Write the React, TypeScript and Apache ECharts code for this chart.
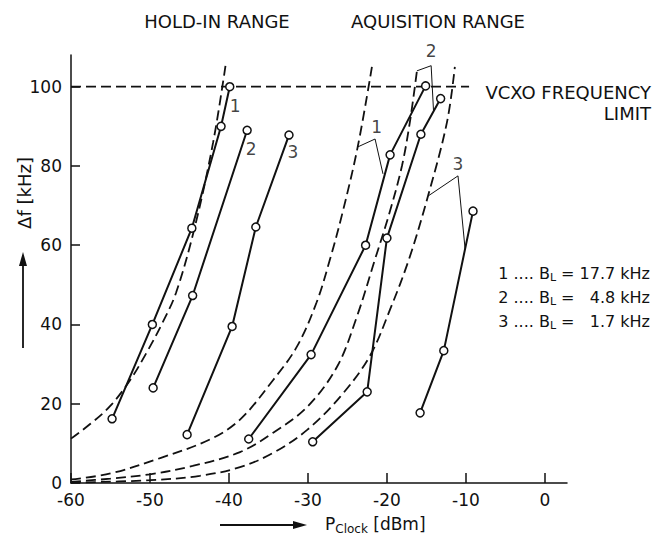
import React, { useEffect, useRef } from "react";
import * as echarts from "echarts";

// ---- tick values ----
const xTicks = [-60, -50, -40, -30, -20, -10, 0];
const yTicks = [0, 20, 40, 60, 80, 100];

// ---- measured curves (P_clock dBm, Δf kHz) ----
const holdIn1 = [[-54.8, 16.2], [-49.7, 40], [-44.7, 64.3], [-41, 90], [-39.9, 100]];
const holdIn2 = [[-49.6, 24], [-44.6, 47.3], [-37.7, 89]];
const holdIn3 = [[-45.3, 12.2], [-39.6, 39.5], [-36.6, 64.6], [-32.4, 87.8]];
const acq1 = [[-37.5, 11.1], [-29.6, 32.4], [-22.7, 60], [-19.6, 82.8], [-15.1, 100.2]];
const acq2 = [[-29.4, 10.4], [-22.5, 23], [-20, 61.8], [-15.7, 88], [-13.2, 97]];
const acq3 = [[-15.8, 17.7], [-12.8, 33.4], [-9.1, 68.6]];

// ---- theoretical (dashed) curves ----
const holdInTheory = [[-60, 11.2], [-57.5, 15], [-55, 19.5], [-52.5, 26], [-50.4, 33], [-48.4, 40.5], [-46.7, 48], [-44.3, 64.8], [-42, 86], [-40.4, 105.8]];
const acqTheory1 = [[-60, 0.9], [-55, 2.4], [-48.7, 6.3], [-42.4, 11], [-38.6, 16], [-34.4, 26], [-31.4, 34.4], [-28.9, 45.6], [-27.2, 56.5], [-25.6, 68.4], [-23.7, 84.8], [-21.9, 105]];
const acqTheory2 = [[-60, 0.3], [-55, 1.1], [-50, 2.2], [-44.6, 4.3], [-38.6, 7.8], [-34.4, 12.7], [-30.1, 19.2], [-26.3, 29.4], [-23.8, 42], [-21.5, 56.5], [-19.7, 68], [-18.1, 80], [-17.1, 91], [-16.2, 104]];
const acqTheory3 = [[-60, 0.1], [-50, 0.7], [-43.7, 1.8], [-38.6, 4], [-34.4, 7.6], [-30.1, 13.4], [-25.9, 21.8], [-22.2, 31.9], [-19.6, 43.8], [-17.2, 56.5], [-14.8, 72.4], [-12.4, 91], [-11.4, 105]];
const vcxoLimit = [[-60, 100], [-9.6, 100]];

// ---- callout leaders ----
const callout1 = [[-23.7, 84.8], [-21.5, 86.8], [-20.5, 78]];
const callout2 = [[-16.2, 104], [-14.4, 105.3], [-14.1, 93.9]];
const callout3 = [[-14.8, 72.4], [-11, 77.5], [-10.1, 59]];

// ---- curve number labels ----
const curveLabelNames = ["1", "2", "3", "1", "2", "3"];
const curveLabelPos = [[-39.2, 95.2], [-37.2, 84.3], [-31.9, 83.5], [-21.3, 89.9], [-14.4, 108.9], [-11, 80.5]];

// ---- legend text ----
const legendLines = [
  "1 .... B{sub|L} = 17.7 kHz",
  "2 .... B{sub|L} =   4.8 kHz",
  "3 .... B{sub|L} =   1.7 kHz",
];

const FONT = "DejaVu Sans";
const INK = "#111";

export default function App() {
  const ref = useRef<HTMLDivElement>(null);

  useEffect(() => {
    document.body.style.margin = "0";
    const chart = echarts.init(ref.current!, undefined, { renderer: "svg" });

    const solid = (data: number[][]) => ({
      type: "line",
      data,
      z: 5,
      clip: false,
      symbol: "circle",
      symbolSize: 8,
      itemStyle: { color: "#fff", borderColor: INK, borderWidth: 1.5 },
      lineStyle: { color: INK, width: 2 },
      silent: true,
    });
    const dashed = (data: number[][], smooth = true) => ({
      type: "line",
      data,
      z: 3,
      clip: false,
      smooth: smooth ? 0.35 : false,
      symbol: "none",
      lineStyle: { color: INK, width: 1.8, type: [10, 5] },
      silent: true,
    });
    const leader = (data: number[][]) => ({
      type: "line",
      data,
      z: 4,
      clip: false,
      symbol: "none",
      lineStyle: { color: INK, width: 1 },
      silent: true,
    });

    const option: any = {
      animation: false,
      backgroundColor: "#fff",
      grid: { left: 71, right: 91, top: 55, bottom: 57 },
      xAxis: {
        type: "value",
        min: -60,
        max: 2.8,
        axisLine: { onZero: false, lineStyle: { color: INK, width: 1.5 } },
        axisTick: { inside: true, length: 10, customValues: xTicks, lineStyle: { color: INK, width: 1.5 } },
        axisLabel: { customValues: xTicks, color: INK, fontFamily: FONT, fontSize: 17, margin: 8 },
        splitLine: { show: false },
      },
      yAxis: {
        type: "value",
        min: 0,
        max: 108,
        axisLine: { show: true, onZero: false, lineStyle: { color: INK, width: 1.5 } },
        axisTick: { show: true, inside: true, length: 9, customValues: yTicks, lineStyle: { color: INK, width: 1.5 } },
        axisLabel: { customValues: yTicks, color: INK, fontFamily: FONT, fontSize: 17, margin: 9 },
        splitLine: { show: false },
      },
      series: [
        dashed(vcxoLimit, false),
        dashed(holdInTheory),
        dashed(acqTheory1),
        dashed(acqTheory2),
        dashed(acqTheory3),
        solid(holdIn1),
        solid(holdIn2),
        solid(holdIn3),
        solid(acq1),
        solid(acq2),
        solid(acq3),
        leader(callout1),
        leader(callout2),
        leader(callout3),
        {
          type: "scatter",
          z: 6,
          clip: false,
          symbolSize: 0,
          silent: true,
          data: curveLabelPos.map((p, i) => ({ name: curveLabelNames[i], value: p })),
          label: {
            show: true,
            position: "inside",
            formatter: "{b}",
            color: INK,
            fontFamily: FONT,
            fontSize: 17,
          },
        },
      ],
      graphic: [
        { type: "text", x: 217, y: 21, style: { text: "HOLD-IN RANGE", font: `18px "${FONT}"`, fill: INK, textAlign: "center", textVerticalAlign: "middle" } },
        { type: "text", x: 438, y: 21, style: { text: "AQUISITION RANGE", font: `18px "${FONT}"`, fill: INK, textAlign: "center", textVerticalAlign: "middle" } },
        { type: "text", x: 651, y: 92, style: { text: "VCXO FREQUENCY", font: `18px "${FONT}"`, fill: INK, textAlign: "right", textVerticalAlign: "middle" } },
        { type: "text", x: 651, y: 113, style: { text: "LIMIT", font: `18px "${FONT}"`, fill: INK, textAlign: "right", textVerticalAlign: "middle" } },
        ...legendLines.map((t, i) => ({
          type: "text",
          x: 650,
          y: 273 + i * 24,
          style: {
            text: t,
            font: `16px "${FONT}"`,
            fill: INK,
            textAlign: "right",
            textVerticalAlign: "middle",
            rich: {
              sub: { fontSize: 11, fontFamily: FONT, fill: INK, verticalAlign: "bottom", padding: [8, 0, 0, 0] },
            },
          },
        })),
        // y-axis name and arrow
        { type: "text", x: 24, y: 193, rotation: Math.PI / 2, style: { text: "Δf [kHz]", font: `18px "${FONT}"`, fill: INK, textAlign: "center", textVerticalAlign: "middle" } },
        { type: "line", shape: { x1: 23, y1: 348, x2: 23, y2: 262 }, style: { stroke: INK, lineWidth: 1.8 } },
        { type: "polygon", shape: { points: [[23, 252], [19, 266], [27, 266]] }, style: { fill: INK } },
        // x-axis name and arrow
        { type: "line", shape: { x1: 220, y1: 525, x2: 296, y2: 525 }, style: { stroke: INK, lineWidth: 1.8 } },
        { type: "polygon", shape: { points: [[307, 525], [293, 521], [293, 529]] }, style: { fill: INK } },
        {
          type: "text",
          x: 325,
          y: 524,
          style: {
            text: "P{sub|Clock} [dBm]",
            font: `17px "${FONT}"`,
            fill: INK,
            textAlign: "left",
            textVerticalAlign: "middle",
            rich: { sub: { fontSize: 12, fontFamily: FONT, fill: INK, verticalAlign: "bottom", padding: [9, 0, 0, 0] } },
          },
        },
      ],
    };

    chart.setOption(option);
    return () => chart.dispose();
  }, []);

  return <div ref={ref} style={{ width: 658, height: 540 }} />;
}
